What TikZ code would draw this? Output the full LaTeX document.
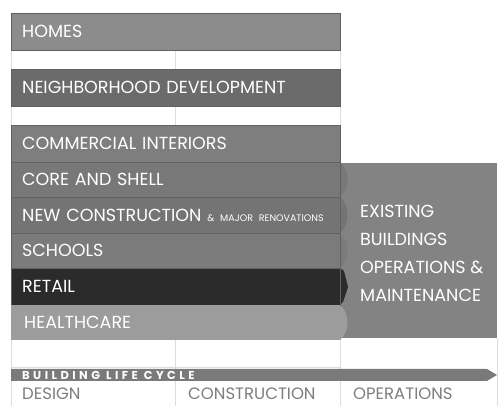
\documentclass[tikz,border=0pt]{standalone}
\usepackage{fontspec}
\setmainfont{Poppins}
\usetikzlibrary{positioning}

\definecolor{homesgray}{HTML}{8C8C8C}
\definecolor{hoodgray}{HTML}{6B6B6B}
\definecolor{cigray}{HTML}{7E7E7E}
\definecolor{coregray}{HTML}{787878}
\definecolor{ncgray}{HTML}{747474}
\definecolor{schoolgray}{HTML}{7B7B7B}
\definecolor{retailgray}{HTML}{2B2B2B}
\definecolor{healthgray}{HTML}{9C9C9C}
\definecolor{ebomgray}{HTML}{838383}
\definecolor{cyclegray}{HTML}{7A7A7A}
\definecolor{phasegray}{HTML}{7E7E7E}
\definecolor{gridgray}{HTML}{DDDDDD}

\begin{document}
\begin{tikzpicture}[
        x=1pt, y=-1pt,
        bar/.style={anchor=north west, minimum width=329pt, inner xsep=11pt,
            text width=307pt, align=left, text=white, font=\fontsize{17.5}{20}\selectfont,
            draw=black!62, line width=0.4pt},
        phase/.style={anchor=base west, text=phasegray, inner sep=0pt,
            font=\fontsize{16.5}{20}\selectfont},
        gridline/.style={gridgray, line width=0.6pt}
    ]

    \useasboundingbox (0,0) rectangle (499,406);
    \fill[white] (0,0) rectangle (499,406);

    % faint grid behind the bars
    \draw[gridline] (11,13) -- (11,406);
    \draw[gridline] (175,13) -- (175,406);
    \draw[gridline] (340,13) -- (340,406);
    \draw[gridline] (497,338) -- (497,406);
    \draw[gridline] (11,367) -- (340,367);

    % existing buildings block
    \fill[ebomgray] (340,163) rectangle (497,338);
    \node[anchor=north west, align=left, text=white, inner sep=0pt,
        font=\fontsize{17.5}{28}\selectfont] (ebom) at (360,205)
        {EXISTING\\BUILDINGS\\OPERATIONS \&\\MAINTENANCE};

    % rating system bars
    \node[bar, fill=homesgray, minimum height=37pt] (homes) at (11,13) {HOMES};
    \node[bar, fill=hoodgray, minimum height=37pt] (hood) at (11,69) {NEIGHBORHOOD DEVELOPMENT};
    \node[bar, fill=cigray, minimum height=37pt] (ci) at (11,125) {COMMERCIAL INTERIORS};

    \fill[coregray] (340,162) .. controls (350,170) and (350,189) .. (340,197) -- cycle;
    \fill[ncgray] (340,197) .. controls (350,205) and (350,225) .. (340,233) -- cycle;
    \fill[schoolgray] (340,233) .. controls (350,241) and (350,260) .. (340,268) -- cycle;
    \fill[retailgray] (340,268) -- (344,271) -- (348,287) -- (343,302) -- (340,305) -- cycle;
    \fill[healthgray] (340,305) .. controls (350,313) and (350,332) .. (340,340) -- cycle;

    \node[bar, fill=coregray, minimum height=35pt] (core) at (11,162) {CORE AND SHELL};
    \node[bar, fill=ncgray, minimum height=36pt] (nc) at (11,197)
        {NEW CONSTRUCTION\ {\fontsize{9.5}{11}\selectfont \& MAJOR RENOVATIONS}};
    \node[bar, fill=schoolgray, minimum height=35pt] (schools) at (11,233) {SCHOOLS};
    \node[bar, fill=retailgray, minimum height=37pt] (retail) at (11,268) {RETAIL};
    \node[bar, fill=healthgray, minimum height=35pt, draw=none] (health) at (11,305) {\hspace{2pt}HEALTHCARE};

    % life cycle arrow
    \fill[cyclegray] (11,369) -- (487,369) -- (497,375) -- (487,381) -- (11,381) -- cycle;
    \node[anchor=west, text=white, inner sep=0pt,
        font=\fontsize{11.5}{12}\selectfont\bfseries\addfontfeature{LetterSpace=30}]
        (cycle) at (22,375.5) {BUILDING\hspace{6pt}LIFE\hspace{6pt}CYCLE};

    % phases
    \node[phase] (design) at (22,400) {DESIGN};
    \node[phase] (construction) at (188,400) {CONSTRUCTION};
    \node[phase] (operations) at (353,400) {OPERATIONS};
\end{tikzpicture}
\end{document}
